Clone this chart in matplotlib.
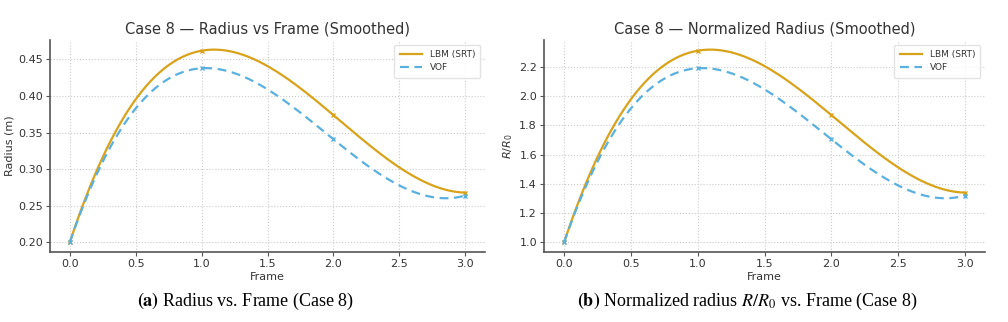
import matplotlib.pyplot as plt
import numpy as np

# raw data
frames = np.array([0, 1, 2, 3])
radius_lbm = np.array([0.200, 0.462, 0.374, 0.268])
radius_vof = np.array([0.200, 0.438, 0.341, 0.264])
R0 = 0.20

lbm_color = '#D9A21B'
vof_color = '#5AB0DE'
txt = '#333333'

plt.rcParams['font.family'] = 'DejaVu Sans'
plt.rcParams['text.color'] = txt
plt.rcParams['axes.labelcolor'] = txt
plt.rcParams['xtick.color'] = txt
plt.rcParams['ytick.color'] = txt


def smooth(x, y):
    # cubic through the 4 points (same as a k=3 interpolating spline)
    c = np.polyfit(x, y, 3)
    xs = np.linspace(x.min(), x.max(), 300)
    return xs, np.polyval(c, xs)


def draw(ax, y_lbm, y_vof, title, ylabel):
    xs, ys = smooth(frames, y_lbm)
    ax.plot(xs, ys, color=lbm_color, lw=1.6, label='LBM (SRT)')
    ax.plot(frames, y_lbm, 'x', color=lbm_color, ms=3.5, mew=1)
    xs, ys = smooth(frames, y_vof)
    ax.plot(xs, ys, color=vof_color, lw=1.6, ls=(0, (4, 2.5)), label='VOF')
    ax.plot(frames, y_vof, 'x', color=vof_color, ms=3.5, mew=1)
    ax.set_title(title, fontsize=10.5, pad=5)
    ax.set_xlabel('Frame', fontsize=8, labelpad=2)
    ax.set_ylabel(ylabel, fontsize=8, labelpad=3)
    ax.set_xticks([0, 0.5, 1.0, 1.5, 2.0, 2.5, 3.0])
    ax.tick_params(labelsize=8, length=3, width=0.8, color='#555555', pad=2)
    ax.grid(True, ls=':', color='#cccccc', lw=0.8)
    for s in ['top', 'right']:
        ax.spines[s].set_visible(False)
    for s in ['left', 'bottom']:
        ax.spines[s].set_color('#555555')
        ax.spines[s].set_linewidth(1.2)
    ax.legend(loc='upper right', fontsize=6.5, frameon=True, handlelength=2.5,
              borderpad=0.6, labelspacing=0.5, edgecolor='#dddddd', fancybox=True)


fig = plt.figure(figsize=(10.08, 3.22), dpi=100)
ax1 = fig.add_axes([50 / 1008, 1 - 252 / 322, 435 / 1008, 212 / 322])
ax2 = fig.add_axes([544 / 1008, 1 - 252 / 322, 441 / 1008, 212 / 322])

draw(ax1, radius_lbm, radius_vof, 'Case 8 \u2014 Radius vs Frame (Smoothed)', 'Radius (m)')
draw(ax2, radius_lbm / R0, radius_vof / R0, 'Case 8 \u2014 Normalized Radius (Smoothed)', r'$R/R_0$')

serif = 'Liberation Serif'
fig.text(246 / 1008, 1 - 301 / 322, r'$\mathbf{(a)}$ Radius vs. Frame (Case 8)',
         ha='center', va='center', fontsize=13, family=serif, color='black',
         math_fontfamily='stix')
fig.text(747 / 1008, 1 - 301 / 322,
         r'$\mathbf{(b)}$ Normalized radius $R/R_0$ vs. Frame (Case 8)',
         ha='center', va='center', fontsize=13, family=serif, color='black',
         math_fontfamily='stix')

fig.savefig('out.png', dpi=100)
